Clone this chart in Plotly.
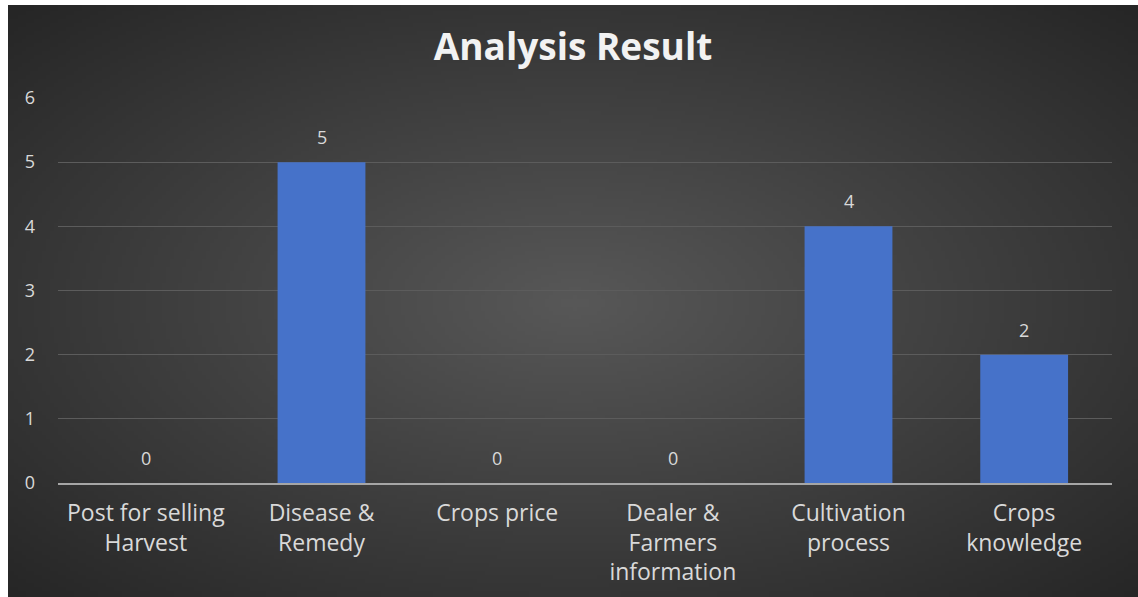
import base64, struct, zlib
import numpy as np
import plotly.graph_objects as go

categories = ["Post for selling<br>Harvest", "Disease &<br>Remedy", "Crops price",
              "Dealer &<br>Farmers<br>information", "Cultivation<br>process", "Crops<br>knowledge"]
values = [0, 5, 0, 0, 4, 2]
y_ticks = [0, 1, 2, 3, 4, 5, 6]

# ---- radial gradient background as PNG data URI ----
W, H = 283, 148
yy, xx = np.mgrid[0:H, 0:W]
cx, cy = W * 0.5, H * 0.5
d = np.sqrt(((xx - cx) / cx) ** 2 + ((yy - cy) / cy) ** 2) / np.sqrt(2)
v = (88 - 50 * d).clip(0, 255).astype(np.uint8)
rgb = np.stack([v, v, v], axis=-1)

def png_uri(arr):
    h, w, _ = arr.shape
    raw = b"".join(b"\x00" + arr[i].tobytes() for i in range(h))
    def chunk(t, data):
        c = struct.pack(">I", len(data)) + t + data
        return c + struct.pack(">I", zlib.crc32(t + data) & 0xffffffff)
    png = b"\x89PNG\r\n\x1a\n" + chunk(b"IHDR", struct.pack(">IIBBBBB", w, h, 8, 2, 0, 0, 0)) \
        + chunk(b"IDAT", zlib.compress(raw, 9)) + chunk(b"IEND", b"")
    return "data:image/png;base64," + base64.b64encode(png).decode()

FIG_W, FIG_H = 1138, 597
L, R, T, B = 58, 26, 98, 114
pw, ph = FIG_W - L - R, FIG_H - T - B
img_x0, img_y0 = 8, 5
bg = dict(source=png_uri(rgb), xref="paper", yref="paper",
          x=(img_x0 - L) / pw, y=(FIG_H - B - img_y0) / ph,
          sizex=(FIG_W - img_x0) / pw, sizey=(FIG_H - img_y0) / ph,
          xanchor="left", yanchor="top", sizing="stretch", layer="below")

FONT = "Open Sans"

fig = go.Figure()
fig.add_trace(go.Bar(x=categories, y=values, width=0.5,
                     marker=dict(color="#4672c9", line=dict(width=0))))

for c, val in zip(categories, values):
    fig.add_annotation(x=c, y=val, text=str(val), showarrow=False, yanchor="bottom",
                       yshift=11, font=dict(family=FONT, size=18, color="#d9d9d9"))

fig.update_layout(
    width=FIG_W, height=FIG_H,
    margin=dict(l=L, r=R, t=T, b=B, autoexpand=False),
    paper_bgcolor="#ffffff", plot_bgcolor="rgba(0,0,0,0)",
    images=[bg],
    showlegend=False,
    title=dict(text="<b>Analysis Result</b>", x=(FIG_W + img_x0) / 2 / FIG_W, xanchor="center",
               y=1 - 47 / FIG_H, yanchor="middle",
               font=dict(family=FONT, size=37, color="#f2f2f2")),
    bargap=0.5,
)
fig.update_xaxes(showgrid=False, showline=True, linecolor="#a6a6a6", linewidth=2,
                 ticks="", tickfont=dict(family=FONT, size=23, color="#d9d9d9"),
                 ticklabelstandoff=8, automargin=False)
fig.update_yaxes(range=[0, 6], tickvals=y_ticks, showgrid=True, gridcolor="#5c5c5c",
                 gridwidth=1, zeroline=False, showline=False, ticks="",
                 tickfont=dict(family=FONT, size=18, color="#d9d9d9"),
                 ticklabelstandoff=22, automargin=False)

fig.write_html("out.html")
